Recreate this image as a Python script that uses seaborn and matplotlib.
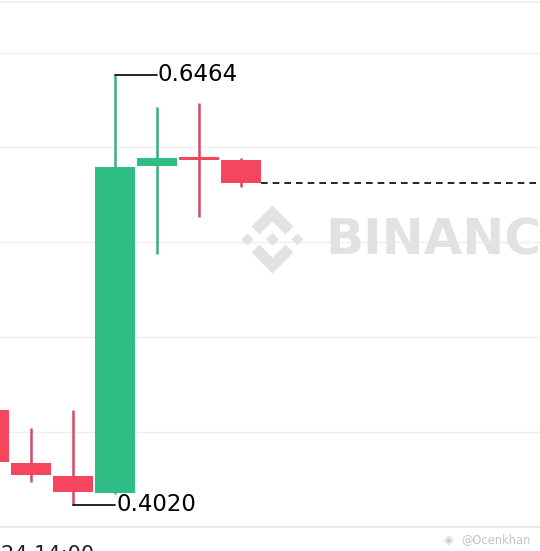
import numpy as np
import matplotlib
matplotlib.use("Agg")
import matplotlib.pyplot as plt
from matplotlib.patches import Polygon
import seaborn as sns

# candle data
opens = [0.4560, 0.4259, 0.4185, 0.4088, 0.5944, 0.5996, 0.5981]
highs = [0.4600, 0.4458, 0.4560, 0.6464, 0.6282, 0.6305, 0.5994]
lows = [0.4240, 0.4151, 0.4020, 0.4082, 0.5447, 0.5657, 0.5829]
closes = [0.4264, 0.4191, 0.4094, 0.5941, 0.5995, 0.5981, 0.5848]
grid_levels = [0.4435, 0.4975, 0.5515, 0.6055, 0.6590]
tick_pos = [1]
tick_labels = ['03-24 14:00']

sns.set_theme(style="white")
plt.rcParams['font.family'] = ['DejaVu Sans']

UP = '#2ebd85'
DOWN = '#f6465d'
UP_WICK = '#3aae80'
DOWN_WICK = '#d44a63'

fig = plt.figure(figsize=(5.4, 5.51), dpi=100)
ax = fig.add_axes([0, 24.5 / 551, 1, 524.5 / 551])

x = np.arange(len(opens))
o = np.array(opens)
c = np.array(closes)
up = c >= o
body_col = [UP if u else DOWN for u in up]
wick_col = [UP_WICK if u else DOWN_WICK for u in up]

ax.vlines(x, lows, highs, colors=wick_col, lw=1.8, zorder=2)
ax.bar(x, np.abs(c - o), bottom=np.minimum(o, c), width=0.93,
       color=body_col, zorder=3, linewidth=0)

xmin, xmax = 11 / 42, 551 / 42
ax.set_xlim(xmin, xmax)
ax.set_ylim(0.38978, 0.68789)

# last price line
ax.hlines(closes[-1], x[-1] + 0.465, xmax, colors='black', lw=1.2,
          linestyles=(0, (4, 3)), zorder=2)

# max / min labels
hi = int(np.argmax(highs))
lo = int(np.argmin(lows))
ax.plot([hi, hi + 1], [highs[hi], highs[hi]], color='black', lw=1.2, zorder=4)
ax.text(hi + 1.02, highs[hi], f'{highs[hi]:.4f}', fontsize=16.5,
        va='center', ha='left', color='black')
ax.plot([lo, lo + 1], [lows[lo], lows[lo]], color='black', lw=1.2, zorder=4)
ax.text(lo + 1.04, lows[lo], f'{lows[lo]:.4f}', fontsize=16.5,
        va='center', ha='left', color='black')

ax.set_yticks(grid_levels)
ax.yaxis.grid(True, color='#efefef', lw=1)
ax.xaxis.grid(False)
ax.tick_params(axis='y', length=0, labelleft=False)
ax.set_xticks(tick_pos)
ax.set_xticklabels(tick_labels, fontsize=15, color='#222222')
ax.tick_params(axis='x', length=0, pad=13)
for side in ['left', 'right']:
    ax.spines[side].set_visible(False)
ax.spines['bottom'].set_color('#e6e6e6')
ax.spines['top'].set_color('#f0f0f0')

# watermark
def px(xp, yp):
    return (xp / 540, 1 - yp / 551)

cx, cy = 272.5, 239.5
shapes = [
    [(0, -6.5), (6.5, 0), (0, 6.5), (-6.5, 0)],
    [(-25, -6), (-19, 0), (-25, 6), (-31, 0)],
    [(25, -6), (31, 0), (25, 6), (19, 0)],
    [(0, -34), (21, -13), (13, -5), (0, -18), (-13, -5), (-21, -13)],
    [(0, 34), (21, 13), (13, 5), (0, 18), (-13, 5), (-21, 13)],
]
for s in shapes:
    pts = [px(cx + dx, cy + dy) for dx, dy in s]
    fig.patches.append(Polygon(pts, closed=True, transform=fig.transFigure,
                               facecolor='#e2e2e2', edgecolor='none', zorder=1))
fig.text(*px(325, 240), 'BINANCE', fontsize=36, fontweight='bold',
         color='#e2e2e2', va='center', ha='left', zorder=1)
fig.text(*px(444, 540), '◈', fontsize=9, color='#cccccc',
         va='center', ha='left')
fig.text(*px(461, 540), '@Ocenkhan', fontsize=8.3, color='#c4c4c4',
         va='center', ha='left')

fig.savefig('out.png', dpi=100)
